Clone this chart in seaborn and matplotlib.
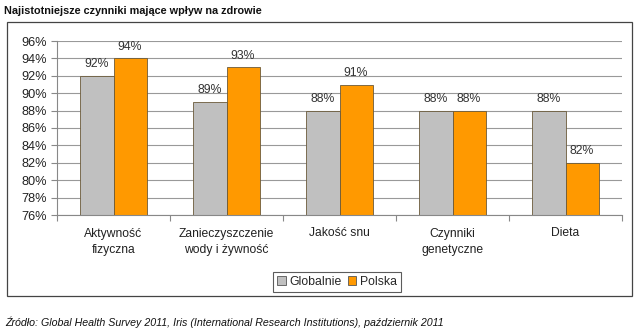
import matplotlib
matplotlib.use("Agg")
import matplotlib.pyplot as plt
import seaborn as sns
import pandas as pd
from matplotlib.patches import Rectangle
from matplotlib.ticker import FixedLocator

categories = ["Aktywność\nfizyczna", "Zanieczyszczenie\nwody i żywność", "Jakość snu", "Czynniki\ngenetyczne", "Dieta"]
globalnie = [92, 89, 88, 88, 88]
polska = [94, 93, 91, 88, 82]
series = ["Globalnie", "Polska"]
yticks = [76, 78, 80, 82, 84, 86, 88, 90, 92, 94, 96]

sns.set_theme(style="white")
plt.rcParams['font.family'] = ['Liberation Sans', 'DejaVu Sans']

df = pd.DataFrame({
    "kategoria": categories * 2,
    "seria": [series[0]] * len(categories) + [series[1]] * len(categories),
    "wartosc": globalnie + polska,
})

fig = plt.figure(figsize=(6.4, 3.32), dpi=100)
ax = fig.add_axes([57/640, 1 - 215/332, (622-57)/640, (215-41)/332])

sns.barplot(data=df, x="kategoria", y="wartosc", hue="seria", order=categories,
            hue_order=series, palette=["#C0C0C0", "#FF9900"], width=0.586,
            edgecolor="#6b5a3a", linewidth=0.6, ax=ax, saturation=1)

for cont in ax.containers:
    ax.bar_label(cont, labels=[f"{v:.0f}%" for v in cont.datavalues],
                 padding=4, fontsize=8.8, color="#333333")

ax.set_ylim(76, 96)
ax.set_xlim(-0.5, 4.5)
ax.set_yticks(yticks)
ax.set_yticklabels([f"{t}%" for t in yticks], fontsize=9.2, color="#222222")
ax.yaxis.grid(True, color="#999999", linewidth=0.8)
ax.set_axisbelow(True)
ax.set_xlabel("")
ax.set_ylabel("")
ax.tick_params(axis="x", which="major", length=0, labelsize=8.7, labelcolor="#222222", pad=9)
for lbl in ax.get_xticklabels():
    lbl.set_linespacing(1.45)
ax.xaxis.set_minor_locator(FixedLocator([-0.5, 0.5, 1.5, 2.5, 3.5, 4.5]))
ax.tick_params(axis="x", which="minor", length=4, width=0.8, color="#888888", bottom=True)
ax.tick_params(axis="y", length=4, width=0.8, color="#888888", left=True, pad=3)
for s in ["top", "right"]:
    ax.spines[s].set_visible(False)
ax.spines["left"].set_color("#888888")
ax.spines["bottom"].set_color("#888888")
ax.spines["left"].set_linewidth(0.8)
ax.spines["bottom"].set_linewidth(0.8)

leg = ax.legend(loc="center", bbox_to_anchor=((337-57)/565, -(282-215)/174),
                ncol=2, frameon=True, fontsize=8.8, handlelength=0.7, handleheight=0.7,
                handletextpad=0.3, columnspacing=0.5, borderpad=0.35, fancybox=False)
leg.get_frame().set_edgecolor("#333333")
leg.get_frame().set_linewidth(0.8)
for h in leg.legend_handles:
    h.set_edgecolor("#555555")
    h.set_linewidth(0.6)

fig.patches.append(Rectangle((7/640, 1 - 296/332), (632-7)/640, (296-22)/332,
                             transform=fig.transFigure, fill=False,
                             edgecolor="#444444", linewidth=0.9))

fig.text(4/640, 1 - 11/332, "Najistotniejsze czynniki mające wpływ na zdrowie",
         fontsize=7.8, fontweight="bold", va="center", ha="left", color="#111111")
fig.text(5/640, 1 - 322/332,
         "Źródło: Global Health Survey 2011, Iris (International Research Institutions), październik 2011",
         fontsize=7.7, style="italic", va="center", ha="left", color="#111111")

fig.savefig("out.png", dpi=100)
